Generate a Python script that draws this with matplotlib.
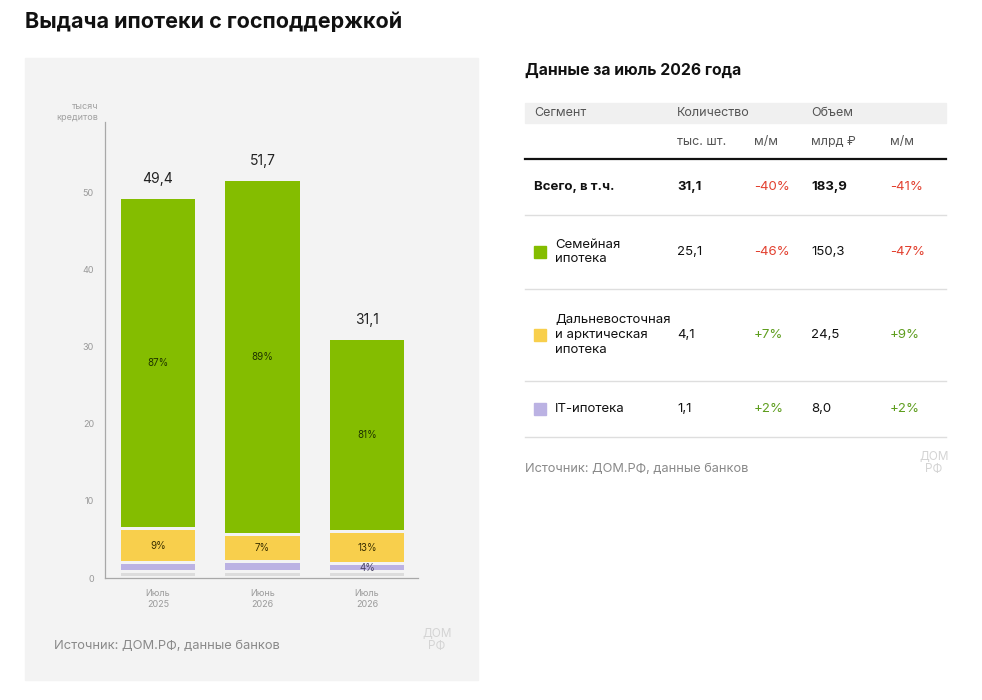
import matplotlib.pyplot as plt
from matplotlib.patches import Rectangle

plt.rcParams['font.family'] = ['Inter', 'DejaVu Sans']

# =========================
# Data
# =========================

periods = ["Июль\n2025", "Июнь\n2026", "Июль\n2026"]
totals = [49.4, 51.7, 31.1]
family = [43.0, 46.0, 25.1]
far_east = [4.4, 3.6, 4.1]
it_mortgage = [1.2, 1.3, 1.1]
other = [0.8, 0.8, 0.8]

segments = ["Всего, в т.ч.", "Семейная\nипотека",
            "Дальневосточная\nи арктическая\nипотека", "IT-ипотека"]
count = [31.1, 25.1, 4.1, 1.1]
count_mm = [-40, -46, 7, 2]
volume = [183.9, 150.3, 24.5, 8.0]
volume_mm = [-41, -47, 9, 2]

GREEN = "#84bd00"
YELLOW = "#f8cf4c"
PURPLE = "#bbb2e3"
LIGHT = "#dcdcdc"
PANEL = "#f3f3f3"
RED = "#e2402f"
POS = "#5f9e1f"
GRAY_TXT = "#8a8a8a"

seg_colors = [None, GREEN, YELLOW, PURPLE]


def fmt(v):
    return f"{v:.1f}".replace(".", ",")


W, H = 982, 700
fig = plt.figure(figsize=(W / 100, H / 100), dpi=100)

# overlay in pixel coordinates
ov = fig.add_axes([0, 0, 1, 1])
ov.set_xlim(0, W)
ov.set_ylim(H, 0)
ov.axis("off")

ov.text(25, 22, "Выдача ипотеки с господдержкой", fontsize=15.5,
        fontweight="bold", va="center", ha="left", color="#111111")

ov.add_patch(Rectangle((25, 58), 453, 622, color=PANEL, zorder=0))

# =========================
# Bar chart
# =========================

def px_axes(left, top, right, bottom):
    return [left / W, 1 - bottom / H, (right - left) / W, (bottom - top) / H]


ax = fig.add_axes(px_axes(105, 122, 418, 578))
ax.patch.set_alpha(0)
ax.set_xlim(-0.507, 2.488)
ax.set_ylim(0, 59.2)

gap = 0.4
x = range(len(periods))
bottoms = [0.0] * len(periods)
layers = [(other, LIGHT), (it_mortgage, PURPLE), (far_east, YELLOW), (family, GREEN)]
for values, color in layers:
    ax.bar(x, [v - gap for v in values], bottom=[b + gap / 2 for b in bottoms],
           width=0.71, color=color, linewidth=0, zorder=2)
    bottoms = [b + v for b, v in zip(bottoms, values)]

for i in x:
    ax.text(i, totals[i] + 1.5, fmt(totals[i]), ha="center", va="bottom",
            fontsize=10, color="#222222")
    fb = other[i] + it_mortgage[i] + far_east[i]
    ax.text(i, fb + family[i] / 2, f"{round(family[i] / totals[i] * 100)}%",
            ha="center", va="center", fontsize=7, color="#1f3300")
    yb = other[i] + it_mortgage[i]
    ax.text(i, yb + far_east[i] / 2, f"{round(far_east[i] / totals[i] * 100)}%",
            ha="center", va="center", fontsize=7, color="#3a3000")
ax.text(2, other[2] + it_mortgage[2] / 2, f"{round(it_mortgage[2] / totals[2] * 100)}%",
        ha="center", va="center", fontsize=7, color="#4a4466")

ax.set_yticks([0, 10, 20, 30, 40, 50])
ax.set_xticks(list(x))
ax.set_xticklabels(periods, fontsize=6.5, color="#9a9a9a", linespacing=1.2)
ax.tick_params(axis="y", labelsize=6.5, labelcolor="#9a9a9a", length=0, pad=8)
ax.tick_params(axis="x", length=0, pad=8)
for s in ["top", "right"]:
    ax.spines[s].set_visible(False)
for s in ["left", "bottom"]:
    ax.spines[s].set_color("#a8a8a8")
    ax.spines[s].set_linewidth(0.9)

ov.text(98, 112, "тысяч\nкредитов", ha="right", va="center", fontsize=6.5,
        color="#a0a0a0", linespacing=1.15)

ov.text(54, 646, "Источник: ДОМ.РФ, данные банков", fontsize=9.3,
        color=GRAY_TXT, va="center", ha="left")
ov.text(437, 640, "ДОМ\nРФ", fontsize=8.5, color="#d4d4d4", va="center",
        ha="center", linespacing=0.95)

# =========================
# Table
# =========================

ov.text(525, 70, "Данные за июль 2026 года", fontsize=11.3, fontweight="bold",
        va="center", ha="left", color="#111111")

ov.add_patch(Rectangle((525, 103), 421, 20, color="#f0f0f0", zorder=0))
col_seg, col_cnt, col_cmm, col_vol, col_vmm = 534, 677, 754, 811, 890
hdr_kw = dict(fontsize=9, color="#555555", va="center", ha="left")
ov.text(col_seg, 113, "Сегмент", **hdr_kw)
ov.text(col_cnt, 113, "Количество", **hdr_kw)
ov.text(col_vol, 113, "Объем", **hdr_kw)
ov.text(col_cnt, 142, "тыс. шт.", **hdr_kw)
ov.text(col_cmm, 142, "м/м", **hdr_kw)
ov.text(col_vol, 142, "млрд ₽", **hdr_kw)
ov.text(col_vmm, 142, "м/м", **hdr_kw)
ov.plot([525, 946], [159, 159], color="#111111", lw=1.6)

top = 159
for i, name in enumerate(segments):
    nlines = name.count("\n") + 1
    h = 38 + 18 * nlines
    yc = top + h / 2
    weight = "bold" if i == 0 else "normal"
    if seg_colors[i] is None:
        ov.text(col_seg, yc, name, fontsize=9.5, fontweight=weight,
                va="center", ha="left", color="#111111")
    else:
        ov.add_patch(Rectangle((534, yc - 6), 12, 12, color=seg_colors[i]))
        ov.text(555, yc, name, fontsize=9.5, va="center", ha="left",
                color="#111111", linespacing=1.3)
    ov.text(col_cnt, yc, fmt(count[i]), fontsize=9.5, fontweight=weight,
            va="center", ha="left", color="#111111")
    ov.text(col_vol, yc, fmt(volume[i]), fontsize=9.5, fontweight=weight,
            va="center", ha="left", color="#111111")
    for col, v in [(col_cmm, count_mm[i]), (col_vmm, volume_mm[i])]:
        ov.text(col, yc, f"{v:+d}%", fontsize=9.5, va="center", ha="left",
                color=RED if v < 0 else POS)
    top += h
    ov.plot([525, 946], [top, top], color="#dedede", lw=1)

ov.text(525, 469, "Источник: ДОМ.РФ, данные банков", fontsize=9.2,
        color=GRAY_TXT, va="center", ha="left")
ov.text(934, 463, "ДОМ\nРФ", fontsize=8.5, color="#d4d4d4", va="center",
        ha="center", linespacing=0.95)

fig.savefig("out.png", dpi=100, facecolor="white")
